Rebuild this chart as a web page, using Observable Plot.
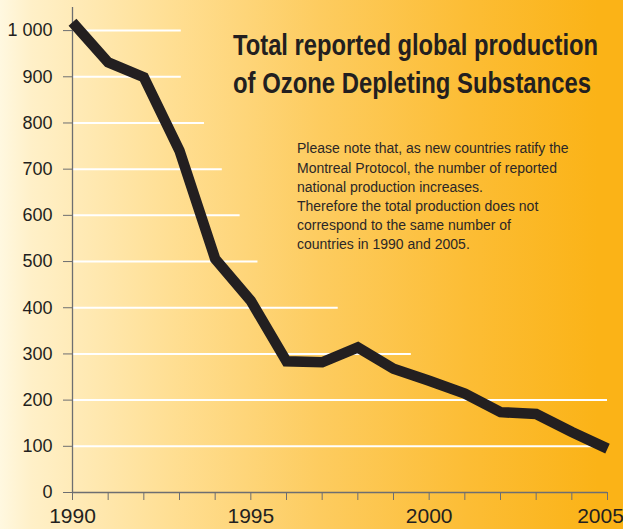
<!DOCTYPE html>
<html><head><meta charset="utf-8">
<script src="https://cdn.jsdelivr.net/npm/d3@7"></script>
<script src="https://cdn.jsdelivr.net/npm/@observablehq/plot@0.6"></script>
<style>
html,body{margin:0;padding:0;background:#fff;}
#chart svg{display:block;background:linear-gradient(to right,#fff8e0 0%,#fff0c8 5%,#ffdf94 27%,#fdcc60 51%,#fcbd35 75%,#fbb317 96%,#fbb317 100%) !important;}
</style></head><body><div id="chart"></div>
<script>
// ---- data ----
const years = [1990,1991,1992,1993,1994,1995,1996,1997,1998,1999,2000,2001,2002,2003,2004,2005];
const production = [1018,931,899,740,506,415,284,282,314,268,242,214,174,170,131,95];
const gridValues = [100,200,300,400,500,600,700,800,900,1000];
const gridEnds = [2005,2005,1999.5,1997.45,1995.2,1994.7,1994.2,1993.7,1993.05,1993.05];
const yTicks = [0,100,200,300,400,500,600,700,800,900,1000];
const yTickLabels = ["0","100","200","300","400","500","600","700","800","900","1 000"];
const xLabelYears = [1990,1995,2000];
const xLastLabel = [2005];
const titleLines = ["Total reported global production","of Ozone Depleting Substances"];
const noteLines = [
  "Please note that, as new countries ratify the",
  "Montreal Protocol, the number of reported",
  "national production increases.",
  "Therefore the total production does not",
  "correspond to the same number of",
  "countries in 1990 and 2005."
];

const data = years.map((y,i)=>({year:y, value:production[i]}));
const grid = gridValues.map((v,i)=>({value:v, end:gridEnds[i]}));

const ink = "#231f20";
const axisGray = "#6d6e71";
const narrow = "'Liberation Sans Narrow', 'Arial Narrow', 'Liberation Sans', sans-serif";

const plot = Plot.plot({
  width: 623,
  height: 529,
  marginLeft: 72,
  marginRight: 16,
  marginTop: 7,
  marginBottom: 37,
  style: {fontFamily: "'Liberation Sans', Arial, sans-serif", color: ink, overflow: "visible"},
  x: {domain: [1990, 2005]},
  y: {domain: [0, 1050]},
  marks: [
    Plot.ruleY(grid, {y: "value", x1: () => 1990, x2: "end", stroke: "white", strokeWidth: 2}),
    Plot.ruleX([1990], {stroke: axisGray, strokeWidth: 1.3}),
    Plot.ruleY([0], {stroke: axisGray, strokeWidth: 1.3}),
    Plot.axisY(yTicks, {tickSize: 9, tickPadding: 11, tickFormat: d => yTickLabels[yTicks.indexOf(d)], fontSize: 18, stroke: axisGray, fill: ink, label: null}),
    Plot.axisX(years, {tickSize: 8, tickFormat: () => "", stroke: axisGray, label: null}),
    Plot.axisX(xLabelYears, {tickSize: 0, tickPadding: 16, tickFormat: d => String(d), fontSize: 21, fontFamily: narrow, fill: ink, label: null}),
    Plot.axisX(xLastLabel, {tickSize: 0, tickPadding: 16, dx: -7, tickFormat: d => String(d), fontSize: 21, fontFamily: narrow, fill: ink, label: null}),
    Plot.line(data, {x: "year", y: "value", stroke: ink, strokeWidth: 10.5, strokeLinejoin: "miter", strokeLinecap: "butt", strokeMiterlimit: 10})
  ]
});
document.getElementById("chart").appendChild(plot);

const svg = d3.select(plot);
const title = svg.append("g").attr("font-family", narrow).attr("text-anchor", "start")
  .attr("font-weight", "bold").attr("font-size", 25).attr("fill", ink);
const titleLens = [365, 358];
titleLines.forEach((t,i) => {
  title.append("text").attr("transform", `translate(233,${55 + i*38}) scale(1,1.18)`)
    .attr("textLength", titleLens[i]).attr("lengthAdjust", "spacingAndGlyphs").text(t);
});
const note = svg.append("g").attr("font-family", "'Liberation Sans', Arial, sans-serif").attr("text-anchor", "start")
  .attr("font-size", 14).attr("fill", "#2b2727");
noteLines.forEach((t,i) => {
  note.append("text").attr("x", 297).attr("y", 153.3 + i*19.2).text(t);
});
</script>
</body></html>
